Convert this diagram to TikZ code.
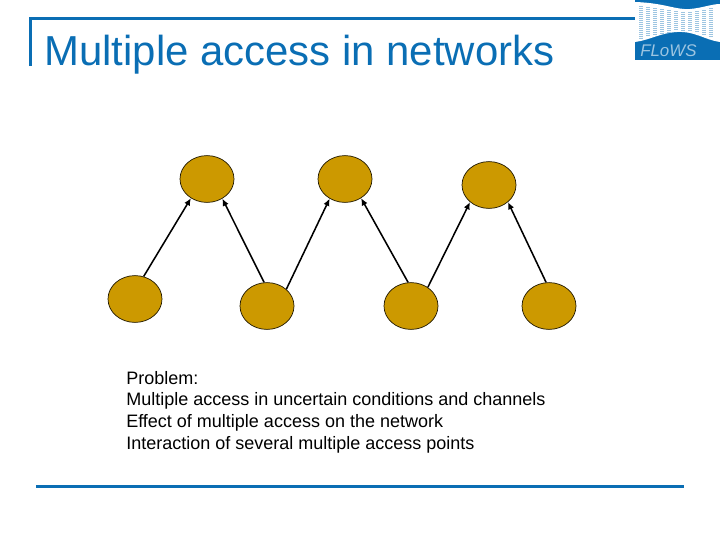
\documentclass[tikz,border=0pt]{standalone}
\usepackage{fontspec}
\setmainfont{Liberation Sans}
\usetikzlibrary{shapes.geometric,positioning,calc,arrows.meta}
\definecolor{flowsblue}{HTML}{0A6EB4}
\definecolor{nodegold}{HTML}{CC9900}

\begin{document}
\begin{tikzpicture}[x=0.025cm,y=-0.025cm,
	station/.style={ellipse, draw=black!85!nodegold, fill=nodegold, line width=0.5pt, minimum width=1.35cm, minimum height=1.17cm, inner sep=0pt},
	link/.style={-{Latex[length=1.8mm,width=1.6mm]}, line width=1.1pt, black},
	rule/.style={draw=flowsblue, line width=2.1pt}]
\useasboundingbox (0,0) rectangle (720,540);

%--cornice del titolo
\coordinate (framebottom) at (30.5,66);
\coordinate (framecorner) at (30.5,18.5);
\coordinate (frameend) at (636,18.5);
\draw[rule] (framebottom) -- (framecorner) -- (frameend);
\node [anchor=base west, inner sep=0pt, text=flowsblue, font=\fontsize{29.8}{32}\selectfont] (title) at (44,65) {Multiple access in networks};

%--logo
\fill[flowsblue] (635,0) rectangle (720,60);
\fill[white] (635,2) .. controls (665,3) and (675,10) .. (690,9) .. controls (702,8) and (712,4) .. (720,4) -- (720,42) .. controls (705,40) and (695,31) .. (677,32) .. controls (660,33) and (650,40) .. (635,42) -- cycle;
\foreach \xpos/\ytop/\ybot in {641/6/38,648/7/36,655/8/35,662/9/34,669/10/32,676/11/30,683/12/30,690/12/30,697/11/32,704/10/34,711/8/36}
	\draw[flowsblue!40, line width=2.4pt, dash pattern=on 0.5pt off 0.9pt] (\xpos,\ytop) -- (\xpos,\ybot);
\node [anchor=base west, inner sep=0pt, text=white!60!flowsblue, font=\fontsize{12}{13}\itshape] (logotext) at (640,56.5) {FLoWS};

%--nodi superiori
\node [station] (top1) at (207,179) {};
\node [station] (top2) at (345,179) {};
\node [station] (top3) at (489,185) {};

%--nodi inferiori
\node [station] (bot1) at (135,299) {};
\node [station] (bot2) at (267,306) {};
\node [station] (bot3) at (411,306) {};
\node [station] (bot4) at (549,306) {};

\draw[link] (bot1.69) -- (top1.230);
\draw[link] (bot2.97) -- (top1.308);
\draw[link] (bot2.41) -- (top2.232);
\draw[link] (bot3.97) -- (top2.310);
\draw[link] (bot3.48) -- (top3.222);
\draw[link] (bot4.97) -- (top3.318);

%--testo
\node [anchor=north west, inner sep=0pt, align=left, font=\fontsize{12.8}{15.35}\selectfont] (problem) at (126,371)
	{Problem:\\
	 Multiple access in uncertain conditions and channels\\
	 Effect of multiple access on the network\\
	 Interaction of several multiple access points};

%--linea inferiore
\coordinate (footleft) at (36,486.5);
\coordinate (footright) at (684,486.5);
\draw[rule] (footleft) -- (footright);

\end{tikzpicture}
\end{document}
